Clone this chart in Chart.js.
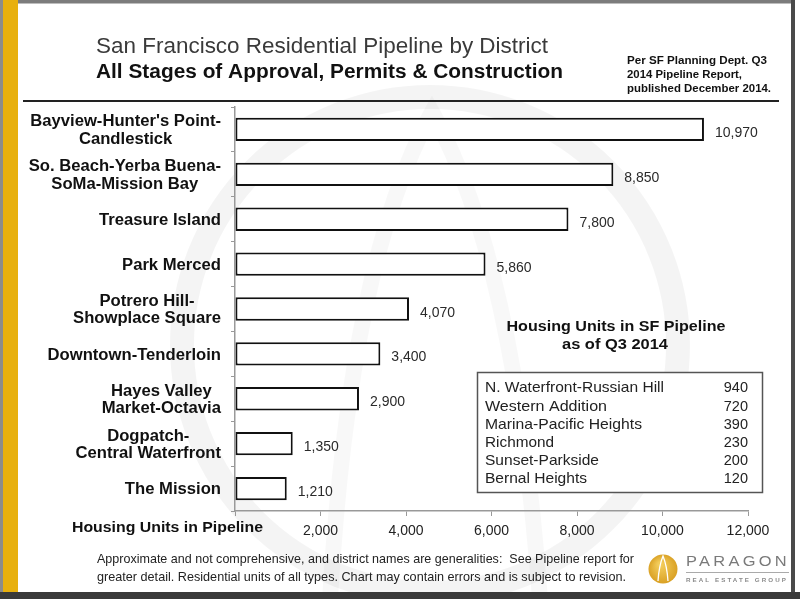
<!DOCTYPE html>
<html><head><meta charset="utf-8">
<script src="https://cdn.jsdelivr.net/npm/chart.js@4.4.1/dist/chart.umd.min.js"></script>
<style>html,body{margin:0;padding:0;background:#fff;overflow:hidden}canvas{display:block}</style>
</head><body>
<canvas id="c" width="800" height="599"></canvas>
<script>
// ---- data ----
const districts = [
  ["Bayview-Hunter's Point-", "Candlestick"],
  ["So. Beach-Yerba Buena-", "SoMa-Mission Bay"],
  ["Treasure Island"],
  ["Park Merced"],
  ["Potrero Hill-", "Showplace Square"],
  ["Downtown-Tenderloin"],
  ["Hayes Valley", "Market-Octavia"],
  ["Dogpatch-", "Central Waterfront"],
  ["The Mission"]
];
const units = [10970, 8850, 7800, 5860, 4070, 3400, 2900, 1350, 1210];
const tickValues = [0, 2000, 4000, 6000, 8000, 10000, 12000];
const otherDistricts = ["N. Waterfront-Russian Hill", "Western Addition", "Marina-Pacific Heights", "Richmond", "Sunset-Parkside", "Bernal Heights"];
const otherUnits = [940, 720, 390, 230, 200, 120];
const titleText = "San Francisco Residential Pipeline by District";
const subtitleText = "All Stages of Approval, Permits & Construction";
const sourceLines = ["Per SF Planning Dept. Q3", "2014 Pipeline Report,", "published December 2014."];
const insetTitle = ["Housing Units in SF Pipeline", "as of Q3 2014"];
const axisTitle = "Housing Units in Pipeline";
const footerLines = [
  "Approximate and not comprehensive, and district names are generalities:  See Pipeline report for",
  "greater detail. Residential units of all types. Chart may contain errors and is subject to revision."
];

const FONT = "'Liberation Sans', Arial, Helvetica, sans-serif";
const fmt = v => v.toLocaleString('en-US');

function txt(ctx, s, x, y, font, color, align, w, sxFixed) {
  ctx.save();
  ctx.font = font; ctx.fillStyle = color; ctx.textBaseline = 'alphabetic';
  ctx.textAlign = align || 'left';
  const m = ctx.measureText(s).width;
  const sx = w ? w / m : (sxFixed || 1);
  ctx.translate(x, y); ctx.scale(sx, 1);
  ctx.fillText(s, 0, 0);
  ctx.restore();
  return m * sx;
}

const watermark = {
  id: 'watermark',
  beforeDraw(chart) {
    const ctx = chart.ctx;
    ctx.save();
    ctx.fillStyle = '#fff';
    ctx.fillRect(0, 0, 800, 599);
    ctx.strokeStyle = 'rgba(0,0,0,0.045)';
    ctx.lineWidth = 24;
    ctx.beginPath(); ctx.arc(430, 345, 248, 0, Math.PI * 2); ctx.stroke();
    ctx.strokeStyle = 'rgba(0,0,0,0.028)';
    ctx.lineWidth = 16;
    ctx.beginPath();
    ctx.moveTo(330, 599); ctx.quadraticCurveTo(350, 260, 432, 112);
    ctx.quadraticCurveTo(515, 260, 540, 599);
    ctx.stroke();
    ctx.restore();
  }
};

const decor = {
  id: 'decor',
  afterDraw(chart) {
    const ctx = chart.ctx;
    // frame
    ctx.save();
    ctx.fillStyle = '#8c8c8c'; ctx.fillRect(0, 0, 3, 599);
    ctx.fillStyle = '#E8B00E'; ctx.fillRect(3, 0, 15, 599);
    ctx.fillStyle = '#7c7c7c'; ctx.fillRect(18, 0, 777, 3.5);
    ctx.fillStyle = '#4a4a4a'; ctx.fillRect(791, 0, 4, 592);
    ctx.fillStyle = '#3a3a3a'; ctx.fillRect(0, 592, 800, 7);
    // header rule
    ctx.strokeStyle = '#222'; ctx.lineWidth = 2;
    ctx.beginPath(); ctx.moveTo(23, 101); ctx.lineTo(779, 101); ctx.stroke();
    ctx.restore();

    // header text
    txt(ctx, titleText, 96, 53, `22.5px ${FONT}`, '#3a3a3a', 'left', 452);
    txt(ctx, subtitleText, 96, 77.5, `bold 19.5px ${FONT}`, '#111', 'left', 467);
    const srcW = [140, 115, 144];
    sourceLines.forEach((s, i) => txt(ctx, s, 627, 64 + i * 14, `bold 11.5px ${FONT}`, '#111', 'left', srcW[i]));

    // category labels (positioned by the y scale)
    const ys = chart.scales.y;
    const lf = `bold 16px ${FONT}`;
    ctx.save(); ctx.font = lf;
    districts.forEach((lines, i) => {
      const yc = ys.getPixelForValue(i);
      const sx = 1.04;
      const ws = lines.map(l => ctx.measureText(l).width * sx);
      const maxW = Math.max(...ws);
      const cx = 221 - maxW / 2;
      const n = lines.length;
      lines.forEach((l, k) => {
        const yy = yc - (n - 1) * 17.5 / 2 + k * 17.5 + 5.7;
        txt(ctx, l, cx, yy, lf, '#111', 'center', null, sx);
      });
    });
    ctx.restore();

    // value labels
    const meta = chart.getDatasetMeta(0);
    meta.data.forEach((bar, i) => {
      txt(ctx, fmt(units[i]), bar.x + 11, bar.y + 7.5, `14px ${FONT}`, '#2a2a2a', 'left');
    });

    // axis title
    txt(ctx, axisTitle, 72, 531.5, `bold 14px ${FONT}`, '#111', 'left', 191);

    // inset
    txt(ctx, insetTitle[0], 616, 331, `bold 14.5px ${FONT}`, '#111', 'center', 219);
    txt(ctx, insetTitle[1], 615, 349, `bold 14.5px ${FONT}`, '#111', 'center', 106);
    ctx.save();
    ctx.fillStyle = '#fff'; ctx.fillRect(477.5, 372.5, 285, 120);
    ctx.strokeStyle = '#555'; ctx.lineWidth = 1.5; ctx.strokeRect(477.5, 372.5, 285, 120);
    ctx.restore();
    const rowW = [179, 122, 157, 69, 114, 102];
    otherDistricts.forEach((d, i) => {
      const yy = 392.3 + i * 18.2;
      txt(ctx, d, 485, yy, `14.5px ${FONT}`, '#222', 'left', rowW[i]);
      txt(ctx, String(otherUnits[i]), 748, yy, `14.5px ${FONT}`, '#222', 'right');
    });

    // footer
    txt(ctx, footerLines[0], 97, 563, `13.5px ${FONT}`, '#222', 'left', 537);
    txt(ctx, footerLines[1], 97, 580.5, `13.5px ${FONT}`, '#222', 'left', 529);

    // logo
    ctx.save();
    const g = ctx.createRadialGradient(660, 564, 2, 663, 569, 15);
    g.addColorStop(0, '#F3CC5A'); g.addColorStop(1, '#D9A023');
    ctx.fillStyle = g;
    ctx.beginPath(); ctx.arc(663, 569, 14.5, 0, Math.PI * 2); ctx.fill();
    ctx.strokeStyle = '#fff'; ctx.lineWidth = 1.3;
    ctx.beginPath();
    ctx.moveTo(658, 581); ctx.quadraticCurveTo(659, 566, 663, 556);
    ctx.quadraticCurveTo(667, 566, 668, 581);
    ctx.stroke();
    ctx.restore();
    ctx.save();
    ctx.letterSpacing = '3px';
    txt(ctx, 'PARAGON', 686, 566, `15px ${FONT}`, '#7a7a7a', 'left', 104);
    ctx.letterSpacing = '2px';
    txt(ctx, 'REAL ESTATE GROUP', 686, 582, `bold 6px ${FONT}`, '#8a8a8a', 'left', 102);
    ctx.restore();
    ctx.save();
    ctx.strokeStyle = '#aaa'; ctx.lineWidth = 1;
    ctx.beginPath(); ctx.moveTo(686, 572.5); ctx.lineTo(789, 572.5); ctx.stroke();
    ctx.restore();
  }
};

new Chart(document.getElementById('c'), {
  type: 'bar',
  data: {
    labels: districts.map(d => d.join(' ')),
    datasets: [{
      data: units,
      backgroundColor: '#ffffff',
      borderColor: '#111111',
      borderWidth: 2,
      borderSkipped: false,
      barPercentage: 0.52,
      categoryPercentage: 1.0
    }]
  },
  options: {
    indexAxis: 'y',
    responsive: false,
    animation: false,
    devicePixelRatio: 1,
    layout: { padding: { top: 107, right: 52, bottom: 0, left: 0 } },
    plugins: { legend: { display: false }, tooltip: { enabled: false }, title: { display: false } },
    scales: {
      x: {
        type: 'linear', min: 0, max: 12000,
        afterBuildTicks: s => { s.ticks = tickValues.map(v => ({ value: v })); },
        ticks: { callback: v => v === 0 ? '' : fmt(v), font: { family: FONT, size: 14 }, color: '#222', padding: 7, maxRotation: 0, autoSkip: false },
        grid: { drawOnChartArea: false, drawTicks: true, tickLength: 5, color: '#999', lineWidth: 1 },
        border: { color: '#999', width: 1.5 },
        afterFit: s => { s.height = 88; }
      },
      y: {
        type: 'category',
        ticks: { display: false },
        grid: { offset: true, drawOnChartArea: false, drawTicks: true, tickLength: 4, color: '#999', lineWidth: 1 },
        border: { color: '#999', width: 1.5 },
        afterFit: s => { s.width = 235; }
      }
    }
  },
  plugins: [watermark, decor]
});
</script>
</body></html>
